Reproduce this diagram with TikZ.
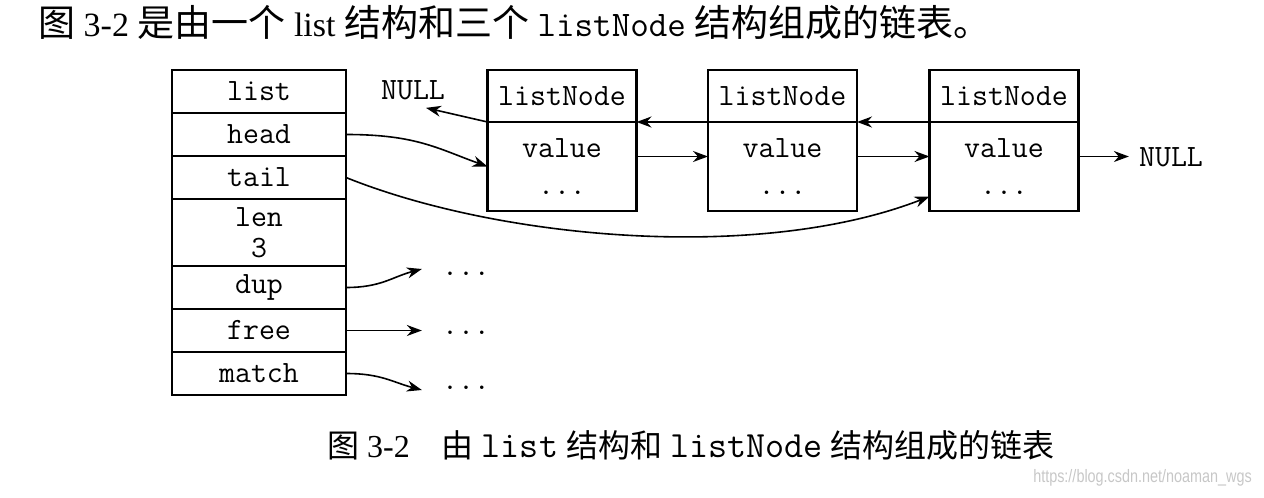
\documentclass[tikz,border=0pt]{standalone}
\usepackage{fontspec}
\setmainfont{Liberation Serif}
\newfontfamily\cjk{Noto Sans CJK SC}
\newfontfamily\marksans{Liberation Sans}
\newcommand\titlecjk{\cjk\fontsize{37}{38}\selectfont}
\usetikzlibrary{arrows.meta,positioning}

\begin{document}
\begin{tikzpicture}[x=1pt, y=-1pt,
        field/.style={draw, line width=2.4pt, outer sep=0pt, inner sep=0pt,
            minimum width=174pt, minimum height=43pt, font=\fontsize{31}{31}\selectfont\ttfamily},
        nodehead/.style={draw, line width=2.4pt, outer sep=0pt, inner sep=0pt,
            minimum width=149pt, minimum height=52pt, font=\fontsize{31}{31}\selectfont\ttfamily},
        nodebody/.style={nodehead, minimum height=89pt, align=center,
            font=\fontsize{31}{37}\selectfont\ttfamily},
        code/.style={inner sep=0pt, font=\fontsize{31}{31}\selectfont\ttfamily},
        ptr/.style={line width=1.6pt, -{Stealth[length=15pt,width=11pt]}}]
                    \useasboundingbox (0,0) rectangle (1264,498);

                    \node[anchor=west, inner sep=0pt, font=\fontsize{34}{38}\selectfont] (title) at (38,22)
                        {{\titlecjk 图} 3-2 {\titlecjk 是由一个} list {\titlecjk 结构和三个} {\ttfamily\fontsize{36}{38}\selectfont listNode} {\titlecjk 结构组成的链表。}};

                    \node[field] (lst) at (259,91.5) {list};
                    \node[field, below=0pt of lst] (hd) {head};
                    \node[field, below=0pt of hd] (tl) {tail};
                    \node[field, below=0pt of tl, minimum height=67pt, align=center] (ln) {len\\3};
                    \node[field, below=0pt of ln] (dp) {dup};
                    \node[field, below=0pt of dp] (fr) {free};
                    \node[field, below=0pt of fr] (mt) {match};

                    \node[nodehead] (h1) at (562,96) {listNode};
                    \node[nodebody, below=0pt of h1] (b1) {value\\...};
                    \node[nodehead] (h2) at (782.5,96) {listNode};
                    \node[nodebody, below=0pt of h2] (b2) {value\\...};
                    \node[nodehead] (h3) at (1004,96) {listNode};
                    \node[nodebody, below=0pt of h3] (b3) {value\\...};

                    \node[code] (null1) at (413,90) {NULL};
                    \node[code] (null2) at (1171,157) {NULL};
                    \node[code, inner xsep=20pt] (d1) at (466,274) {...};
                    \node[code, inner xsep=20pt] (d2) at (466,333) {...};
                    \node[code, inner xsep=20pt] (d3) at (466,388) {...};

                    \draw[ptr] (h1.south west) -- ([xshift=13pt,yshift=-8pt]null1.south);
                    \draw[ptr] (h2.south west) -- (h1.south east);
                    \draw[ptr] (h3.south west) -- (h2.south east);
                    \draw[ptr] ([yshift=10pt]b1.east) -- ([yshift=10pt]b2.west);
                    \draw[ptr] ([yshift=10pt]b2.east) -- ([yshift=10pt]b3.west);
                    \draw[ptr, shorten >=10pt] ([yshift=10pt]b3.east) -- ([yshift=10pt]b3.east -| null2.west);

                    \draw[ptr] (hd.east) .. controls +(70,0) and +(-50,-18) .. (b1.west);
                    \draw[ptr] (tl.east) .. controls +(154,62) and +(-170,66) .. ([yshift=-30pt]b3.west);
                    \draw[ptr] (dp.east) .. controls +(35,0) and +(-30,8) .. ([yshift=5pt]d1.west);
                    \draw[ptr] (fr.east) -- (fr.east -| d2.west);
                    \draw[ptr] (mt.east) .. controls +(35,0) and +(-30,-8) .. ([yshift=-2pt]d3.west);

                    \node[anchor=west, inner sep=0pt, font=\fontsize{32}{34}\selectfont] (caption) at (327,445)
                        {{\cjk 图} 3-2\quad{\cjk 由} {\ttfamily\fontsize{37}{37}\selectfont list} {\cjk 结构和} {\ttfamily\fontsize{37}{37}\selectfont listNode} {\cjk 结构组成的链表}};
                    \node[anchor=east, inner sep=0pt, text=black!22, font=\marksans\fontsize{18}{18}\selectfont] (mark) at (1252,478)
                        {\scalebox{0.8}[1]{https://blog.csdn.net/noaman\_wgs}};
\end{tikzpicture}
\end{document}
